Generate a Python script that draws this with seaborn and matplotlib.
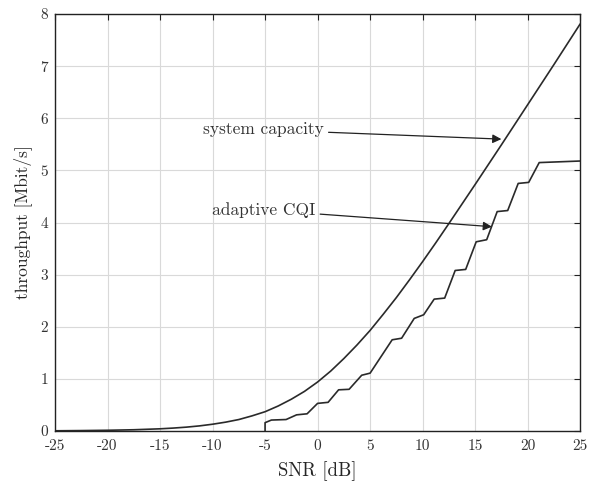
import matplotlib
matplotlib.use("Agg")
import matplotlib.pyplot as plt
import numpy as np
import pandas as pd
import seaborn as sns

# values
snr_capacity = [-25, -22.5, -20, -17.5, -15, -13.75, -12.5, -11.25, -10, -8.75,
                -7.5, -6.25, -5, -3.75, -2.5, -1.25, 0, 1.25, 2.5, 3.75, 5, 6.25,
                7.5, 8.75, 10, 11.25, 12.5, 15, 17.5, 20, 22.5, 25]
capacity = [0.004, 0.008, 0.014, 0.024, 0.042, 0.056, 0.074, 0.098, 0.13, 0.17,
            0.22, 0.29, 0.37, 0.48, 0.61, 0.76, 0.94, 1.15, 1.39, 1.65, 1.93,
            2.24, 2.56, 2.90, 3.25, 3.61, 3.98, 4.73, 5.49, 6.26, 7.03, 7.81]

snr_cqi = [-5, -5, -4.4, -3, -2, -1, 0, 1, 2, 3, 4.2, 5, 7.1, 8, 9.2, 10.1, 11.1,
           12.1, 13.1, 14.1, 15.1, 16.1, 17.1, 18.1, 19.1, 20.1, 21.1, 25]
cqi = [0, 0.16, 0.21, 0.22, 0.31, 0.33, 0.53, 0.55, 0.79, 0.80, 1.07, 1.11, 1.75,
       1.78, 2.16, 2.23, 2.53, 2.55, 3.08, 3.10, 3.63, 3.67, 4.21, 4.23, 4.75,
       4.77, 5.15, 5.18]

x_ticks = [-25, -20, -15, -10, -5, 0, 5, 10, 15, 20, 25]
y_ticks = [0, 1, 2, 3, 4, 5, 6, 7, 8]

sns.set_style("whitegrid")
plt.rcParams["font.family"] = "serif"
plt.rcParams["font.serif"] = ["cmr10", "DejaVu Serif"]
plt.rcParams["axes.unicode_minus"] = False
plt.rcParams["mathtext.fontset"] = "cm"

cap_df = pd.DataFrame({"snr": snr_capacity, "thr": capacity})
cqi_df = pd.DataFrame({"snr": snr_cqi, "thr": cqi})

fig = plt.figure(figsize=(5.89, 4.84), dpi=100)
ax = fig.add_axes([0.0934, 0.1095, 0.8916, 0.8615])

sns.lineplot(data=cap_df, x="snr", y="thr", ax=ax, color="#2a2a2a", lw=1.2,
             sort=False, estimator=None)
sns.lineplot(data=cqi_df, x="snr", y="thr", ax=ax, color="#2a2a2a", lw=1.2,
             sort=False, estimator=None)

ax.set_xlim(-25, 25)
ax.set_ylim(0, 8)
ax.set_xticks(x_ticks)
ax.set_yticks(y_ticks)
ax.set_xlabel("SNR [dB]", fontsize=13.5, labelpad=6)
ax.set_ylabel("throughput [Mbit/s]", fontsize=12.5, labelpad=6)
ax.grid(True, color="#d9d9d9", lw=0.8)
ax.tick_params(direction="in", top=True, right=True, length=4, width=0.8,
               labelsize=11, color="#222222", labelcolor="#333333")
ax.tick_params(axis="x", pad=6)
ax.tick_params(axis="y", pad=5)
for s in ax.spines.values():
    s.set_color("#222222")
    s.set_linewidth(1.0)

arrow = dict(arrowstyle="-|>", color="#222222", lw=0.9, mutation_scale=13,
             shrinkA=1, shrinkB=0)
ax.annotate("system capacity", xy=(17.5, 5.6), xytext=(0.6, 5.78),
            ha="right", va="center", fontsize=12.5, color="#333333",
            arrowprops=arrow)
ax.annotate("adaptive CQI", xy=(16.6, 3.92), xytext=(-0.2, 4.24),
            ha="right", va="center", fontsize=12.5, color="#333333",
            arrowprops=arrow)

fig.savefig("out.png", dpi=100)
